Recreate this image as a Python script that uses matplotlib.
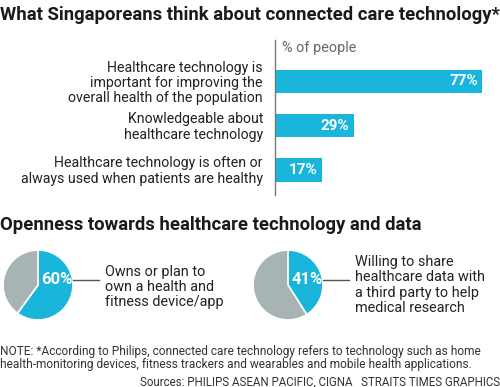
import matplotlib.pyplot as plt
from matplotlib import font_manager

# data
bar_labels = [
    "Healthcare technology is\nimportant for improving the\noverall health of the population",
    "Knowledgeable about\nhealthcare technology",
    "Healthcare technology is often or\nalways used when patients are healthy",
]
bar_values = [77, 29, 17]

pie_values = [60, 41]
pie_labels = [
    "Owns or plan to\nown a health and\nfitness device/app",
    "Willing to share\nhealthcare data with\na third party to help\nmedical research",
]

BLUE = "#19b5da"
GREY = "#a8b4b4"
TXT = "#222222"

names = {f.name for f in font_manager.fontManager.ttflist}
narrow = "Liberation Sans Narrow" if "Liberation Sans Narrow" in names else "Roboto"
plt.rcParams["font.family"] = ["Roboto", "DejaVu Sans"]

W, H = 500, 387
fig = plt.figure(figsize=(W / 100, H / 100), dpi=100)


def ax_px(x, y, w, h):
    return fig.add_axes([x / W, 1 - (y + h) / H, w / W, h / H])


# overlay for text
ov = ax_px(0, 0, W, H)
ov.set_xlim(0, W)
ov.set_ylim(H, 0)
ov.axis("off")
ov.set_zorder(10)

ov.text(0, 15, "What Singaporeans think about connected care technology*",
        fontsize=13.3, fontweight="bold", family=narrow, color="#1a1a1a", va="center")
ov.text(0, 225, "Openness towards healthcare technology and data",
        fontsize=13.3, fontweight="bold", family=narrow, color="#1a1a1a", va="center")

# bar chart
bx = ax_px(276, 40, 268, 155)
bx.barh(range(len(bar_values)), bar_values, height=0.53, color=BLUE)
bx.set_xlim(0, 100)
bx.set_ylim(2.56, -0.93)
bx.axis("off")
for i, (v, lab) in enumerate(zip(bar_values, bar_labels)):
    bx.text(v - 1.6, i, f"{v}%", color="white", fontsize=11, fontweight="bold",
            family=narrow, ha="right", va="center")
    ov.text(263, [83, 127, 171][i], lab, ha="right", va="center", fontsize=10.2,
            color=TXT, linespacing=1.12)
ov.plot([275, 275], [40, 195], color="#777777", lw=1)
ov.text(282, 48, "% of people", fontsize=10.4, color="#666666", va="center")

# pies
centers = [(38, 285), (288, 285)]
text_y = [287, 285]
for k, (val, lab) in enumerate(zip(pie_values, pie_labels)):
    cx, cy = centers[k]
    pa = ax_px(cx - 36, cy - 36, 72, 72)
    pa.pie([val, 100 - val], colors=[BLUE, GREY], startangle=90, counterclock=False,
           wedgeprops=dict(edgecolor="white", linewidth=1.2))
    pa.set_xlim(-1.03, 1.03)
    pa.set_ylim(-1.03, 1.03)
    ov.text(cx + 19, cy - 5, f"{val}%", color="white", fontsize=12, fontweight="bold",
            family=narrow, ha="center", va="center")
    ov.plot([cx + 35, cx + 61], [cy - 5, cy - 5], color="#555555", lw=1)
    ov.text(cx + 67, text_y[k], lab, ha="left", va="center", fontsize=10.4,
            color=TXT, linespacing=1.12)

ov.text(0, 358, "NOTE: *According to Philips, connected care technology refers to technology such as home\n"
        "health-monitoring devices, fitness trackers and wearables and mobile health applications.",
        fontsize=8.6, color="#333333", va="center", linespacing=0.95)
ov.text(500, 382, "Sources: PHILIPS ASEAN PACIFIC, CIGNA   STRAITS TIMES GRAPHICS",
        fontsize=8.3, color="#333333", va="center", ha="right")

fig.savefig("out.png", dpi=100)
